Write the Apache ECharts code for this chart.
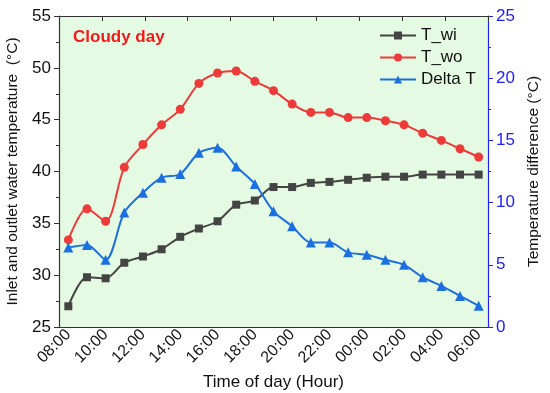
<!DOCTYPE html>
<html>
<head>
<meta charset="utf-8">
<script src="https://cdn.jsdelivr.net/npm/echarts@6/dist/echarts.min.js"></script>
<style>html,body{margin:0;padding:0;background:#fff}#c{width:550px;height:393px}</style>
</head>
<body>
<div id="c"></div>
<script>
const categories = ['08:00','09:00','10:00','11:00','12:00','13:00','14:00','15:00','16:00','17:00','18:00','19:00','20:00','21:00','22:00','23:00','00:00','01:00','02:00','03:00','04:00','05:00','06:00'];
const T_wi = [27.0,29.8,29.7,31.2,31.8,32.5,33.7,34.5,35.2,36.8,37.2,38.5,38.5,38.9,39.0,39.2,39.4,39.5,39.5,39.7,39.7,39.7,39.7];
const T_wo = [33.4,36.4,35.2,40.4,42.6,44.5,46.0,48.5,49.5,49.7,48.7,47.8,46.5,45.7,45.7,45.2,45.2,44.9,44.5,43.7,43.0,42.2,41.4];
const DeltaT = [6.4,6.6,5.4,9.2,10.8,12.0,12.3,14.0,14.4,12.9,11.5,9.3,8.1,6.8,6.8,6.0,5.8,5.4,5.0,4.0,3.3,2.5,1.7];

const FONT = 'Liberation Sans, Arial, sans-serif';
const chart = echarts.init(document.getElementById('c'), null, {renderer:'canvas'});
chart.setOption({
  backgroundColor: '#ffffff',
  animation: false,
  textStyle: {fontFamily: FONT},
  grid: {left: 59, right: 62, top: 16, bottom: 66, outerBoundsMode: 'none', containLabel: false, show: true, backgroundColor: '#e5fae3', borderColor: '#333', borderWidth: 0},
  title: {text: 'Cloudy day', left: 68, top: 24, textStyle: {color: '#f01c1c', fontSize: 17, fontWeight: 'bold', fontFamily: FONT}},
  legend: {
    orient: 'vertical', left: 374, top: 22, itemWidth: 36, itemHeight: 10, itemGap: 5,
    textStyle: {fontSize: 17, color: '#111', fontFamily: FONT},
    data: ['T_wi','T_wo','Delta T']
  },
  xAxis: [{
    type: 'category', data: categories, boundaryGap: true,
    name: 'Time of day (Hour)', nameLocation: 'middle', nameGap: 47,
    nameTextStyle: {fontSize: 17, color: '#111'},
    axisLine: {lineStyle: {color: '#333', width: 1.2}},
    axisTick: {alignWithLabel: true, interval: 0, length: 5, lineStyle: {color: '#333'}},
    axisLabel: {interval: 1, rotate: 45, fontSize: 16, color: '#111', margin: 5}
  }, {
    type: 'value', position: 'top', min: 0, max: 10, interval: 1,
    axisLine: {show: true, lineStyle: {color: '#333', width: 1.2}},
    axisTick: {show: true, inside: true, length: 5, lineStyle: {color: '#333'}},
    axisLabel: {show: false}, splitLine: {show: false}
  }],
  yAxis: [{
    type: 'value', min: 25, max: 55, interval: 5,
    name: 'Inlet and outlet water temperature  (°C)', nameLocation: 'middle', nameGap: 34,
    nameTextStyle: {fontSize: 15.5, color: '#111'},
    axisLine: {show: true, lineStyle: {color: '#333', width: 1.2}},
    axisTick: {show: true, length: 5, lineStyle: {color: '#333'}},
    minorTick: {show: true, splitNumber: 2, length: 3, lineStyle: {color: '#333'}},
    axisLabel: {fontSize: 17, color: '#111', margin: 8},
    splitLine: {show: false}
  }, {
    type: 'value', min: 0, max: 25, interval: 5, position: 'right',
    name: 'Temperature difference (°C)', nameLocation: 'middle', nameGap: 31, nameRotate: 90,
    nameTextStyle: {fontSize: 15.5, color: '#111'},
    axisLine: {show: true, lineStyle: {color: '#2020ff', width: 1.2}},
    axisTick: {show: true, length: 5, lineStyle: {color: '#2020ff'}},
    minorTick: {show: true, splitNumber: 2, length: 3, lineStyle: {color: '#2020ff'}},
    axisLabel: {fontSize: 17, color: '#2020ff', margin: 8},
    splitLine: {show: false}
  }],
  series: [{
    name: 'T_wi', type: 'line', data: T_wi, yAxisIndex: 0, smooth: 0.3,
    symbol: 'rect', symbolSize: 8,
    lineStyle: {color: '#444444', width: 2}, itemStyle: {color: '#444444'}
  }, {
    name: 'T_wo', type: 'line', data: T_wo, yAxisIndex: 0, smooth: 0.3,
    symbol: 'circle', symbolSize: 9,
    lineStyle: {color: '#ef3a3a', width: 2}, itemStyle: {color: '#ef3a3a'}
  }, {
    name: 'Delta T', type: 'line', data: DeltaT, yAxisIndex: 1, smooth: 0.3,
    symbol: 'triangle', symbolSize: 10,
    lineStyle: {color: '#1c6fe0', width: 2}, itemStyle: {color: '#1c6fe0'}
  }]
});
</script>
</body>
</html>
